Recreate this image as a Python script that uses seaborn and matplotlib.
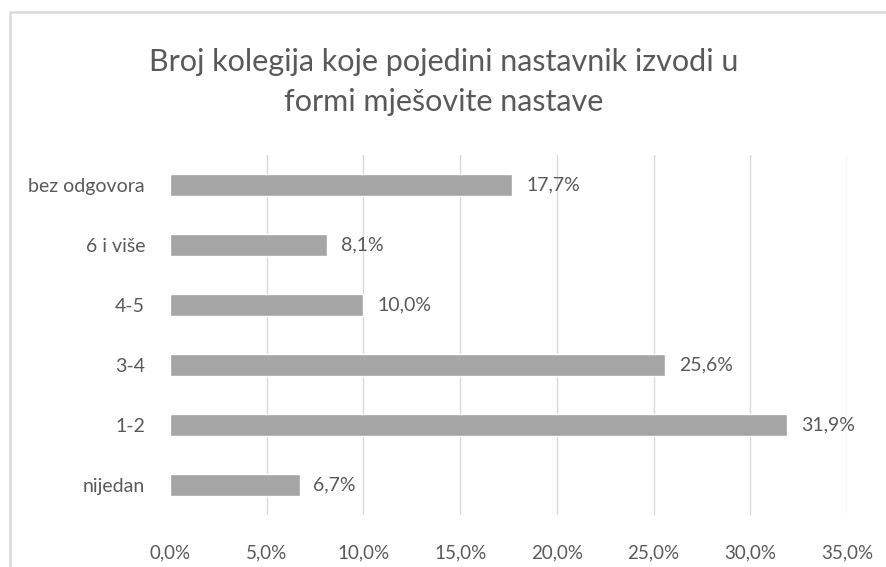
import matplotlib
matplotlib.use("Agg")
import matplotlib.pyplot as plt
import seaborn as sns
import pandas as pd
from matplotlib.patches import Rectangle
from matplotlib.ticker import FuncFormatter

categories = ["bez odgovora", "6 i više", "4-5", "3-4", "1-2", "nijedan"]
values = [17.7, 8.1, 10.0, 25.6, 31.9, 6.7]
xticks = [0, 5, 10, 15, 20, 25, 30, 35]
title = "Broj kolegija koje pojedini nastavnik izvodi u\nformi mješovite nastave"

df = pd.DataFrame({"kategorija": categories, "postotak": values})

sns.set_theme(style="white")
plt.rcParams["font.family"] = ["Lato", "DejaVu Sans"]

text_color = "#595959"
fig = plt.figure(figsize=(8.87, 5.67), dpi=100)
ax = fig.add_axes([170/887, 1-515/567, (847-170)/887, (515-155)/567])

sns.barplot(data=df, x="postotak", y="kategorija", orient="h", color="#A5A5A5",
            saturation=1, width=0.36, ax=ax, order=categories)

ax.set_xlim(0, 35)
ax.set_xticks(xticks)
ax.xaxis.set_major_formatter(FuncFormatter(lambda v, p: f"{v:.1f}%".replace(".", ",")))
ax.grid(axis="x", color="#D9D9D9", linewidth=1)
ax.grid(axis="y", visible=False)
ax.get_xgridlines()[0].set_visible(False)
ax.set_axisbelow(True)
for s in ax.spines.values():
    s.set_visible(False)
ax.set_xlabel("")
ax.set_ylabel("")
ax.tick_params(axis="x", colors=text_color, labelsize=13.5, length=0, pad=21)
ax.tick_params(axis="y", colors=text_color, labelsize=14, length=0, pad=18)

for i, v in enumerate(values):
    ax.annotate(f"{v:.1f}%".replace(".", ","), (v, i), xytext=(10, 0),
                textcoords="offset points", va="center", ha="left",
                fontsize=14, color=text_color)

fig.text(0.5, 1-82/567, title, ha="center", va="center", fontsize=22,
         color=text_color, linespacing=1.5)

fig.patches.append(Rectangle((10/887, -0.1), 1.2, 1-12/567+0.1,
                             transform=fig.transFigure, fill=False,
                             edgecolor="#D9D9D9", linewidth=1.8))

fig.savefig("out.png", dpi=100)
